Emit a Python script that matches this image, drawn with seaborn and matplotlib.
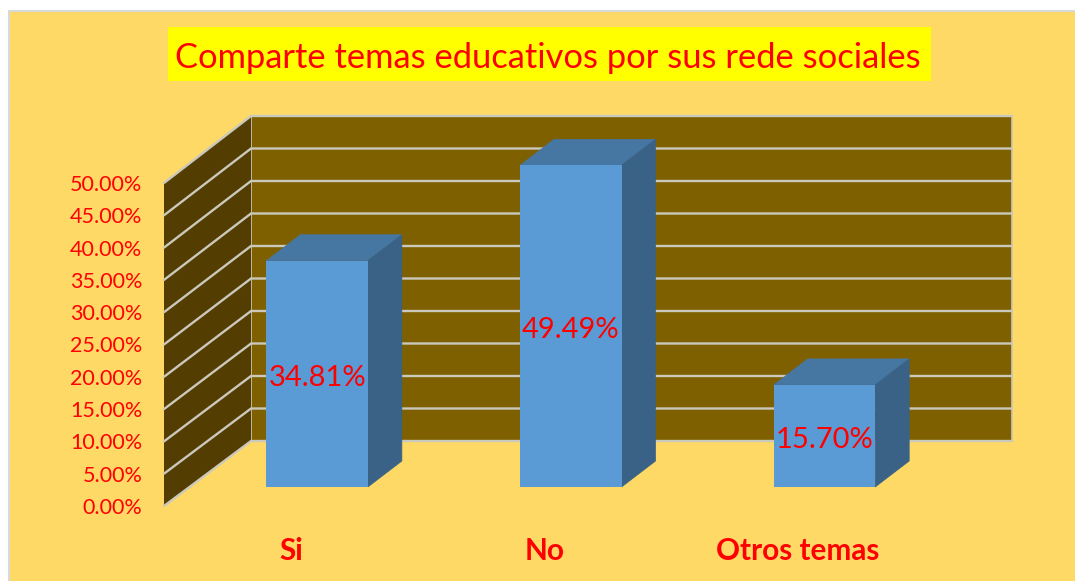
import matplotlib
matplotlib.use('Agg')
import matplotlib.pyplot as plt
from matplotlib.patches import Polygon, Rectangle
import seaborn as sns

# Data
categories = ['Si', 'No', 'Otros temas']
values = [34.81, 49.49, 15.70]
ticks = [0, 5, 10, 15, 20, 25, 30, 35, 40, 45, 50]
title = 'Comparte temas educativos por sus rede sociales'

W, H = 1075, 581
BG = '#FFD966'
WALL = '#7F6000'
SIDE = '#533D00'
GRID = '#CBC8BC'
FRONT = '#5B9BD5'
TOP = '#4676A2'
RIGHT = '#396286'
RED = '#FF0000'

sns.set_theme(style='white')
plt.rcParams['font.family'] = ['Lato', 'DejaVu Sans']

fig = plt.figure(figsize=(W / 100, H / 100), dpi=100, facecolor='white')


def box(x0, y0, x1, y1):
    # pixel box (top-left origin) to figure fractions
    return [x0 / W, 1 - y1 / H, (x1 - x0) / W, (y1 - y0) / H]


# chart area and title box
l, b, w, h = box(9, 11, W + 5, H + 5)
fig.add_artist(Rectangle((l, b), w, h, transform=fig.transFigure, facecolor=BG,
                         edgecolor='#D9D9D9', lw=1.5, zorder=-2))
l, b, w, h = box(168, 27, 931, 81)
fig.add_artist(Rectangle((l, b), w, h, transform=fig.transFigure, facecolor='#FFFF00',
                         edgecolor='none', zorder=-1))
fig.text(548 / W, 1 - 58 / H, title, color=RED, fontsize=24.85, ha='center', va='center')

# front plane of the plot: holds the axis labels and the walls
ax = fig.add_axes(box(164, 183, 925, 506))
ax.patch.set_visible(False)
ax.set_xlim(-0.5, 2.5)
ax.set_ylim(0, 50)
px_y = 323 / 50
dx = 87 / (761 / 3)
dy = 65 / px_y
x0, x1 = -0.5, 2.5
back = 325 / 323  # back wall reads slightly taller than the front edge

ax.add_patch(Polygon([(x0 + dx, dy), (x1 + dx, dy), (x1 + dx, 50 * back + dy), (x0 + dx, 50 * back + dy)],
                     facecolor=WALL, edgecolor=GRID, lw=1.2, clip_on=False, zorder=1))
ax.add_patch(Polygon([(x0, 0), (x0 + dx, dy), (x0 + dx, 50 * back + dy), (x0, 50)],
                     facecolor=SIDE, edgecolor='none', clip_on=False, zorder=2))
for t in ticks:
    ax.plot([x0, x0 + dx, x1 + dx], [t, t * back + dy, t * back + dy], color=GRID, lw=1.7,
            clip_on=False, zorder=3, solid_joinstyle='miter')

ax.set_yticks(ticks)
ax.set_yticklabels([f'{t:.2f}%' for t in ticks])
ax.set_xticks(range(len(categories)))
ax.set_xticklabels(categories)
ax.tick_params(axis='y', length=0, pad=15.5, labelsize=15.5, labelcolor=RED)
ax.tick_params(axis='x', length=0, pad=22.5, labelsize=21.4, labelcolor=RED)
for lab in ax.get_xticklabels():
    lab.set_fontweight('bold')
sns.despine(ax=ax, left=True, bottom=True)

# bars sit part way into the depth of the plot
ax_bar = fig.add_axes(box(164 + 26.3, 487 - 325, 925 + 26.3, 487))
ax_bar.patch.set_visible(False)
sns.barplot(x=categories, y=values, color=FRONT, saturation=1, width=0.4, ax=ax_bar,
            linewidth=0, edgecolor='none', zorder=5)
ax_bar.set_xlim(-0.5, 2.5)
ax_bar.set_ylim(0, 50)
ax_bar.axis('off')

bar_dx = 34 / (761 / 3)
bar_dy = 26 / (325 / 50)
for bar in ax_bar.patches[:len(values)]:
    a = bar.get_x()
    c = a + bar.get_width()
    v = bar.get_height()
    ax_bar.add_patch(Polygon([(a, v), (c, v), (c + bar_dx, v + bar_dy), (a + bar_dx, v + bar_dy)],
                             facecolor=TOP, edgecolor=TOP, lw=0.5, clip_on=False, zorder=4))
    ax_bar.add_patch(Polygon([(c, 0), (c + bar_dx, bar_dy), (c + bar_dx, v + bar_dy), (c, v)],
                             facecolor=RIGHT, edgecolor=RIGHT, lw=0.5, clip_on=False, zorder=4))

bar_texts = ax_bar.bar_label(ax_bar.containers[0], labels=[f'{v:.2f}%' for v in values],
                             label_type='center', color=RED, fontsize=21, zorder=6)
for txt in bar_texts:
    txt.xyann = (0, -3)  # a little under the bar's middle

fig.savefig('out.png', dpi=100, facecolor=fig.get_facecolor())
